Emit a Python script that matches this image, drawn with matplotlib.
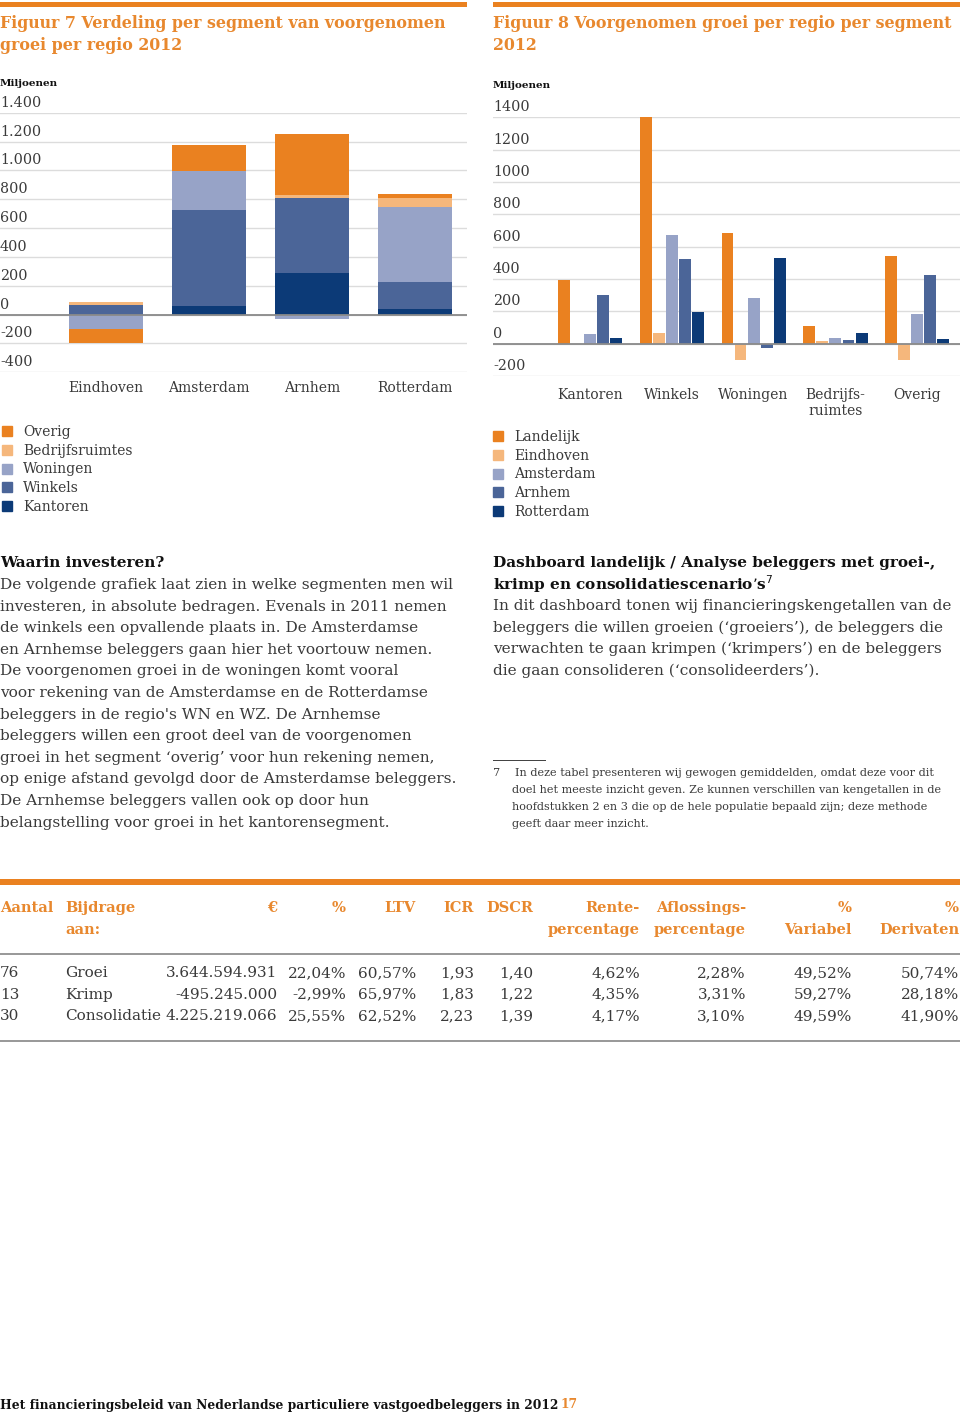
import matplotlib
matplotlib.use('Agg')
import matplotlib.pyplot as plt
from matplotlib.patches import Rectangle, Patch
from matplotlib import transforms
import numpy as np

# Figuur 7 - verdeling per segment (miljoenen)
regios7 = ['Eindhoven', 'Amsterdam', 'Arnhem', 'Rotterdam']
kantoren7 = [0, 62, 290, 37]
winkels7 = [70, 660, 517, 191]
woningen7 = [-100, 276, -28, 517]
bedrijfs7 = [18, 0, 25, 62]
overig7 = [-97, 179, 418, 30]

# Figuur 8 - groei per regio per segment (miljoenen)
segmenten8 = ['Kantoren', 'Winkels', 'Woningen', 'Bedrijfs-\nruimtes', 'Overig']
landelijk8 = [394, 1461, 686, 107, 541]
eindhoven8 = [0, 65, -99, 17, -99]
amsterdam8 = [61, 674, 284, 34, 183]
arnhem8 = [299, 526, -29, 23, 425]
rotterdam8 = [38, 194, 528, 65, 27]

ticks7 = [1400, 1200, 1000, 800, 600, 400, 200, 0, -200, -400]
ticklabels7 = ['1.400', '1.200', '1.000', '800', '600', '400', '200', '0', '-200', '-400']
ticks8 = [1400, 1200, 1000, 800, 600, 400, 200, 0, -200]

# tabel
kolommen = ['Aantal', 'Bijdrage\naan:', '€', '%', 'LTV', 'ICR', 'DSCR', 'Rente-\npercentage',
            'Aflossings-\npercentage', '%\nVariabel', '%\nDerivaten']
aantal = ['76', '13', '30']
bijdrage = ['Groei', 'Krimp', 'Consolidatie']
euro = ['3.644.594.931', '-495.245.000', '4.225.219.066']
pct = ['22,04%', '-2,99%', '25,55%']
ltv = ['60,57%', '65,97%', '62,52%']
icr = ['1,93', '1,83', '2,23']
dscr = ['1,40', '1,22', '1,39']
rente = ['4,62%', '4,35%', '4,17%']
aflossing = ['2,28%', '3,31%', '3,10%']
variabel = ['49,52%', '59,27%', '49,59%']
derivaten = ['50,74%', '28,18%', '41,90%']

ORANJE = '#EA8120'
LICHTORANJE = '#F5B77C'
LICHTBLAUW = '#97A3C7'
MIDBLAUW = '#4B6598'
DONKERBLAUW = '#0C3A77'
TITEL = '#E8882E'
TEKST = '#3a3a3a'
SERIF = ['DejaVu Serif']

W, H = 960, 1417
def fx(x):
    return x / W
def fy(y):
    return 1 - y / H

fig = plt.figure(figsize=(9.6, 14.17), dpi=100)
fig.patch.set_facecolor('white')

def rule(x0, x1, y0, y1, color):
    fig.add_artist(Rectangle((fx(x0), fy(y1)), fx(x1) - fx(x0), (y1 - y0) / H,
                             transform=fig.transFigure, color=color, lw=0))

def txt(x, y, s, size=11, weight='normal', color=TEKST, ha='left', **kw):
    fig.text(fx(x), fy(y), s, fontsize=size, fontweight=weight, color=color,
             ha=ha, va='center', family=SERIF, **kw)

# oranje balken bovenaan
rule(0, 467, 2, 7, ORANJE)
rule(493, 960, 2, 7, ORANJE)

txt(0, 23, 'Figuur 7 Verdeling per segment van voorgenomen', 11.4, 'bold', TITEL)
txt(0, 45, 'groei per regio 2012', 11.4, 'bold', TITEL)
txt(493, 23, 'Figuur 8 Voorgenomen groei per regio per segment', 11.4, 'bold', TITEL)
txt(493, 45, '2012', 11.4, 'bold', TITEL)
txt(0, 83, 'Miljoenen', 7.5, 'bold', '#111111')
txt(493, 86, 'Miljoenen', 7.5, 'bold', '#111111')


def style_axes(ax, ticks, labels, pad):
    ax.set_yticks(ticks)
    ax.set_yticklabels([])
    ax.tick_params(axis='y', length=0)
    ax.tick_params(axis='x', length=0, labelsize=10, labelcolor=TEKST, pad=pad)
    for lab in ax.get_xticklabels():
        lab.set_family(SERIF)
    for s in ax.spines.values():
        s.set_visible(False)
    ax.grid(axis='y', color='#dcdcdc', lw=1)
    ax.set_axisbelow(True)
    ax.axhline(0, color='#8a8a8a', lw=1.3, zorder=3)
    trans = transforms.offset_copy(ax.get_yaxis_transform(), fig=fig, x=0, y=3, units='dots')
    for t, l in zip(ticks, labels):
        ax.text(0, t, l, transform=trans, fontsize=10.3, color=TEKST, family=SERIF,
                ha='left', va='bottom')


def legenda(handles, x, y):
    leg = fig.legend(handles=handles, loc='upper left', bbox_to_anchor=(fx(x), fy(y)),
                     frameon=False, fontsize=10, handlelength=0.75, handleheight=0.75,
                     handletextpad=0.75, labelspacing=0.34, borderpad=0, borderaxespad=0)
    for t in leg.get_texts():
        t.set_family(SERIF)
        t.set_color(TEKST)
    return leg


# Figuur 7: gestapelde staven
ax7 = fig.add_axes([fx(0), fy(372.3), fx(467), (372.3 - 112.7) / H])
x7 = np.arange(len(regios7))
series7 = [(kantoren7, DONKERBLAUW, 'Kantoren'), (winkels7, MIDBLAUW, 'Winkels'),
           (woningen7, LICHTBLAUW, 'Woningen'), (bedrijfs7, LICHTORANJE, 'Bedrijfsruimtes'),
           (overig7, ORANJE, 'Overig')]
pos = np.zeros(len(regios7))
neg = np.zeros(len(regios7))
for vals, col, lab in series7:
    v = np.array(vals, dtype=float)
    bottom = np.where(v >= 0, pos, neg)
    ax7.bar(x7, v, 0.72, bottom=bottom, color=col, lw=0, zorder=2)
    pos = pos + np.where(v >= 0, v, 0)
    neg = neg + np.where(v < 0, v, 0)
ax7.set_xlim(-1.03, 3.505)
ax7.set_ylim(-400, 1400)
ax7.set_xticks(x7)
ax7.set_xticklabels(regios7)
style_axes(ax7, ticks7, ticklabels7, 6.5)

handles7 = [Patch(color=c, label=l) for _, c, l in series7[::-1]]
legenda(handles7, 2, 425)

# Figuur 8: gegroepeerde staven
ax8 = fig.add_axes([fx(493), fy(376), fx(960 - 493), (376 - 117.3) / H])
x8 = np.arange(len(segmenten8))
series8 = [(landelijk8, ORANJE, 'Landelijk'), (eindhoven8, LICHTORANJE, 'Eindhoven'),
           (amsterdam8, LICHTBLAUW, 'Amsterdam'), (arnhem8, MIDBLAUW, 'Arnhem'),
           (rotterdam8, DONKERBLAUW, 'Rotterdam')]
for j, (vals, col, lab) in enumerate(series8):
    ax8.bar(x8 + (j - 2) * 0.159, vals, 0.146, color=col, lw=0, zorder=2)
ax8.set_xlim(-1.18, 4.52)
ax8.set_ylim(-200, 1400)
ax8.set_xticks(x8)
ax8.set_xticklabels(segmenten8)
style_axes(ax8, ticks8, [str(t) for t in ticks8], 8.5)

handles8 = [Patch(color=c, label=l) for _, c, l in series8]
legenda(handles8, 493, 430)

# tekstblok links
links = ['De volgende grafiek laat zien in welke segmenten men wil',
         'investeren, in absolute bedragen. Evenals in 2011 nemen',
         'de winkels een opvallende plaats in. De Amsterdamse',
         'en Arnhemse beleggers gaan hier het voortouw nemen.',
         'De voorgenomen groei in de woningen komt vooral',
         'voor rekening van de Amsterdamse en de Rotterdamse',
         "beleggers in de regio's WN en WZ. De Arnhemse",
         'beleggers willen een groot deel van de voorgenomen',
         'groei in het segment \u2018overig\u2019 voor hun rekening nemen,',
         'op enige afstand gevolgd door de Amsterdamse beleggers.',
         'De Arnhemse beleggers vallen ook op door hun',
         'belangstelling voor groei in het kantorensegment.']
txt(0, 563, 'Waarin investeren?', 11, 'bold', '#111111')
for i, regel in enumerate(links):
    txt(0, 585 + i * 21.6, regel, 11.1)

txt(493, 563, 'Dashboard landelijk / Analyse beleggers met groei-,', 11, 'bold', '#111111')
txt(493, 584, 'krimp en consolidatiescenario\u2019s$^7$', 11, 'bold', '#111111')
rechts = ['In dit dashboard tonen wij financieringskengetallen van de',
          'beleggers die willen groeien (\u2018groeiers\u2019), de beleggers die',
          'verwachten te gaan krimpen (\u2018krimpers\u2019) en de beleggers',
          'die gaan consolideren (\u2018consolideerders\u2019).']
for i, regel in enumerate(rechts):
    txt(493, 606 + i * 21.6, regel, 11.1)

# voetnoot
rule(493, 546, 759.5, 760.5, '#444444')
txt(493, 773, '7', 8.1)
voetnoot = ['In deze tabel presenteren wij gewogen gemiddelden, omdat deze voor dit',
            'doel het meeste inzicht geven. Ze kunnen verschillen van kengetallen in de',
            'hoofdstukken 2 en 3 die op de hele populatie bepaald zijn; deze methode',
            'geeft daar meer inzicht.']
for i, regel in enumerate(voetnoot):
    txt(515 if i == 0 else 512, 773 + i * 17, regel, 8.1)

# tabel
rule(0, 960, 879, 885, ORANJE)
rule(0, 960, 952.5, 954.5, '#9a9a9a')
rule(0, 960, 1039.5, 1041.5, '#9a9a9a')
kolom_x = [0, 65, 277, 346, 416, 474, 533, 640, 746, 852, 959]
kolom_ha = ['left', 'left', 'right', 'right', 'right', 'right', 'right', 'right', 'right', 'right', 'right']
for k, x, ha in zip(kolommen, kolom_x, kolom_ha):
    for n, deel in enumerate(k.split('\n')):
        txt(x, 908 + n * 22, deel, 10.5, 'bold', TITEL, ha=ha)
kolom_data = [aantal, bijdrage, euro, pct, ltv, icr, dscr, rente, aflossing, variabel, derivaten]
for r in range(3):
    for col, x, ha in zip(kolom_data, kolom_x, kolom_ha):
        txt(x, 973 + r * 21.7, col[r], 11, ha=ha)

# voettekst
txt(0, 1405, 'Het financieringsbeleid van Nederlandse particuliere vastgoedbeleggers in 2012',
    8.8, 'bold', '#111111')
txt(561, 1405, '17', 8.8, 'bold', TITEL)

fig.savefig('out.png', dpi=100, facecolor='white')
